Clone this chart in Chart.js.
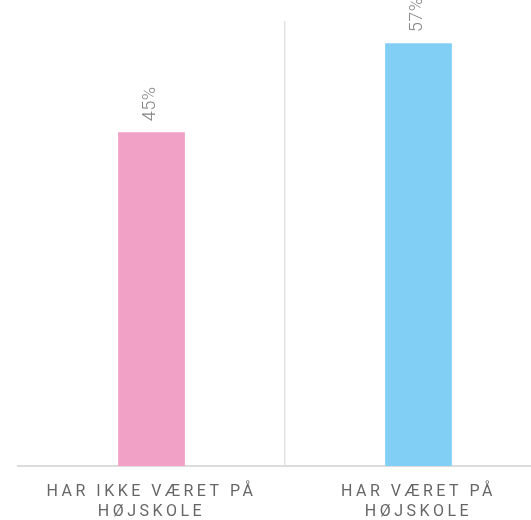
<!DOCTYPE html>
<html>
<head>
<meta charset="utf-8">
<script src="https://cdn.jsdelivr.net/npm/chart.js@4/dist/chart.umd.min.js"></script>
<style>
  html, body { margin: 0; padding: 0; background: #fff; overflow: hidden; }
  #wrap { width: 531px; height: 520px; overflow: hidden; }
</style>
</head>
<body>
<div id="wrap"><canvas id="chart" width="552" height="520"></canvas></div>
<script>
// Data
const categories = [['HAR IKKE VÆRET PÅ', 'HØJSKOLE'], ['HAR VÆRET PÅ', 'HØJSKOLE']];
const values = [45, 57];
const valueLabels = ['45%', '57%'];
const barColors = ['#f1a0c6', '#82cff6'];

// letter spacing for the axis labels
const spacingPlugin = {
  id: 'spacing',
  beforeDraw(chart) { chart.ctx.letterSpacing = '3.5px'; },
  beforeLayout(chart) { chart.ctx.letterSpacing = '3.5px'; }
};

// rotated value labels above each bar
const valueLabelPlugin = {
  id: 'valueLabels',
  afterDatasetsDraw(chart) {
    const { ctx } = chart;
    const meta = chart.getDatasetMeta(0);
    ctx.save();
    ctx.letterSpacing = '0.5px';
    ctx.fillStyle = '#858585';
    ctx.font = '300 18px Roboto, "DejaVu Sans", sans-serif';
    ctx.textAlign = 'left';
    ctx.textBaseline = 'middle';
    meta.data.forEach((bar, i) => {
      ctx.save();
      ctx.translate(bar.x - 1, bar.y - 11);
      ctx.rotate(-Math.PI / 2);
      ctx.fillText(valueLabels[i], 0, 0);
      ctx.restore();
    });
    ctx.restore();
  }
};

new Chart(document.getElementById('chart'), {
  type: 'bar',
  data: {
    labels: categories,
    datasets: [{
      data: values,
      backgroundColor: barColors,
      borderWidth: 0,
      categoryPercentage: 0.25,
      barPercentage: 1
    }]
  },
  options: {
    responsive: false,
    animation: false,
    layout: { padding: { left: 18, top: 21, right: 0, bottom: 0 } },
    plugins: { legend: { display: false }, tooltip: { enabled: false } },
    scales: {
      y: { display: false, min: 0, max: 60 },
      x: {
        afterFit: s => { s.height = 54; },
        grid: {
          offset: true,
          drawTicks: false,
          lineWidth: 1.5,
          color: ctx => ctx.index === 1 ? '#e2e2e2' : 'rgba(0,0,0,0)'
        },
        border: { display: true, color: '#dcdcdc', width: 2 },
        ticks: {
          color: '#666',
          padding: 16,
          font: { family: 'Roboto, "DejaVu Sans", sans-serif', size: 16, lineHeight: 1.25 },
          maxRotation: 0
        }
      }
    }
  },
  plugins: [spacingPlugin, valueLabelPlugin]
});
</script>
</body>
</html>
